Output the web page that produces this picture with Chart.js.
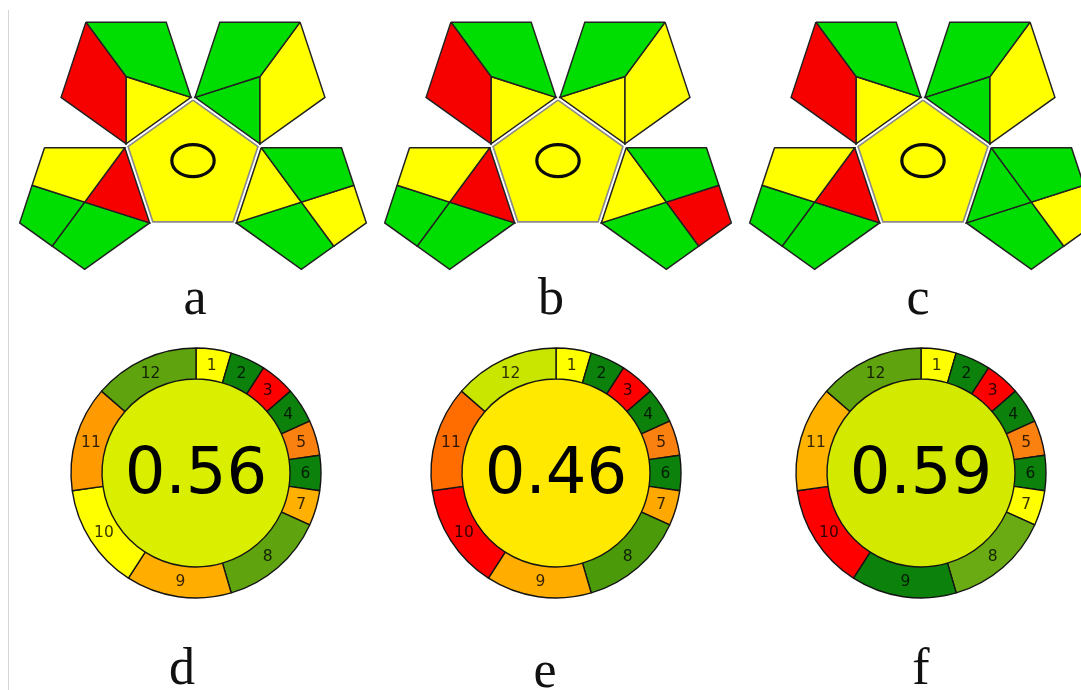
<!DOCTYPE html>
<html>
<head>
<meta charset="utf-8">
<script src="https://cdn.jsdelivr.net/npm/chart.js@4.4.1/dist/chart.umd.min.js"></script>
<style>
  html, body { margin: 0; padding: 0; background: #fff; overflow: hidden; }
  body { width: 1081px; height: 690px; position: relative; }
  canvas { position: absolute; }
  .rule { position: absolute; left: 8px; top: 10px; width: 1px; height: 680px; background: #d6d6d6; }
  .tag { position: absolute; width: 100px; text-align: center; font-family: "Liberation Serif", "Times New Roman", serif;
         font-size: 52px; line-height: 52px; color: #111; }
</style>
</head>
<body>
<div class="rule"></div>

<canvas id="gapiA" width="420" height="290"></canvas>
<canvas id="gapiB" width="420" height="290"></canvas>
<canvas id="gapiC" width="420" height="290"></canvas>
<canvas id="agreeD" width="270" height="270"></canvas>
<canvas id="agreeE" width="270" height="270"></canvas>
<canvas id="agreeF" width="270" height="270"></canvas>

<script>
// ---------------- data ----------------
// GAPI pictograms: one colour code per field (G = green, Y = yellow, R = red)
// field order: top-left (3), top-right (3), bottom-left (4), bottom-right (4), centre (1)
const gapiFields = ['TL-outer', 'TL-top', 'TL-inner', 'TR-top', 'TR-outer', 'TR-inner',
                    'BL-top', 'BL-inner', 'BL-left', 'BL-bottom',
                    'BR-top', 'BR-inner', 'BR-right', 'BR-bottom', 'centre'];
const gapiA = ['R', 'G', 'Y', 'G', 'Y', 'G', 'Y', 'R', 'G', 'G', 'G', 'Y', 'Y', 'G', 'Y'];
const gapiB = ['R', 'G', 'Y', 'G', 'Y', 'Y', 'Y', 'R', 'G', 'G', 'G', 'Y', 'R', 'G', 'Y'];
const gapiC = ['R', 'G', 'Y', 'G', 'Y', 'G', 'Y', 'R', 'G', 'G', 'G', 'G', 'Y', 'G', 'Y'];
const gapiLetters = ['a', 'b', 'c'];

// AGREE pictograms: 12 principles, their weights and the colour of each segment
const principles = ['1', '2', '3', '4', '5', '6', '7', '8', '9', '10', '11', '12'];
const weights = [1, 1, 1, 1, 1, 1, 1, 3, 3, 3, 3, 3];
const agreeD = ['#ffff00', '#0c820c', '#ff0000', '#0c820c', '#fa8010', '#0c820c', '#ffb000', '#5fa30f', '#ffae00', '#ffff00', '#ff9a00', '#5fa30f'];
const agreeE = ['#ffff00', '#0c820c', '#ff0000', '#0c820c', '#fa8010', '#0c820c', '#ffa800', '#4b9a0a', '#ffae00', '#ff0000', '#ff6d00', '#c9e600'];
const agreeF = ['#ffff00', '#0c820c', '#ff0000', '#0c820c', '#fa8010', '#0c820c', '#ffff00', '#6aab14', '#0c820c', '#ff0000', '#ffb300', '#5fa30f'];
const scores = [0.56, 0.46, 0.59];
const scoreColors = ['#daef00', '#ffe900', '#d3e900'];
const agreeLetters = ['d', 'e', 'f'];

// ---------------- layout ----------------
const gapiCentresX = [193.3, 557.5, 923];
const gapiCentreY = 167.4;
const pxPerUnitX = 68.3, pxPerUnitY = 67.3;
const agreeCentresX = [196, 555.5, 921];
const agreeCentreY = 473;

const fieldColour = { G: '#00dd00', Y: '#ffff00', R: '#f70000' };

// ---------------- pentagon geometry ----------------
const rad = Math.PI / 180;
// central regular pentagon, unit circumradius, vertex 0 at the top, counter-clockwise
const V = [0, 1, 2, 3, 4].map(k => ({ x: Math.cos((90 + 72 * k) * rad), y: Math.sin((90 + 72 * k) * rad) }));
const GAP = 0.05;
const mid = (a, b) => ({ x: (a.x + b.x) / 2, y: (a.y + b.y) / 2 });

// outer pentagon: mirror of the centre one over the edge Vi-Vj, pushed out slightly
function satellite(i, j) {
  const m = mid(V[i], V[j]);
  const len = Math.hypot(m.x, m.y);
  const sx = m.x / len * GAP, sy = m.y / len * GAP;
  return V.map(v => ({ x: 2 * m.x - v.x + sx, y: 2 * m.y - v.y + sy }));
}
function centreOf(W) {
  return { x: W.reduce((s, p) => s + p.x, 0) / 5, y: W.reduce((s, p) => s + p.y, 0) / 5 };
}

const TL = satellite(0, 1), TR = satellite(4, 0), BL = satellite(1, 2), BR = satellite(3, 4);
const pTL = centreOf(TL), pTR = centreOf(TR), pBL = centreOf(BL), pBR = centreOf(BR);

// polygons in the same order as gapiFields
const fieldShapes = [
  [TL[3], pTL, TL[0], TL[4]],
  [TL[3], TL[2], TL[1], pTL],
  [pTL, TL[1], TL[0]],
  [TR[2], TR[3], TR[4], pTR],
  [TR[2], TR[1], TR[0], pTR],
  [pTR, TR[0], TR[4]],
  [BL[3], BL[2], pBL, mid(BL[4], BL[3])],
  [BL[2], BL[1], pBL],
  [mid(BL[4], BL[3]), pBL, mid(BL[0], BL[4]), BL[4]],
  [pBL, BL[1], BL[0], mid(BL[0], BL[4])],
  [BR[3], BR[2], mid(BR[2], BR[1]), pBR],
  [BR[3], pBR, BR[4]],
  [mid(BR[2], BR[1]), BR[1], mid(BR[1], BR[0]), pBR],
  [pBR, mid(BR[1], BR[0]), BR[0], BR[4]],
  V.slice()
];

// ring drawn in the middle of the central pentagon
const ringMark = {
  id: 'ringMark',
  afterDatasetsDraw(chart) {
    const { ctx, scales: { x, y } } = chart;
    const cx = x.getPixelForValue(0), cy = y.getPixelForValue(0.10);
    const rx = x.getPixelForValue(0.31) - cx;
    const ry = cy - y.getPixelForValue(0.10 + 0.238);
    ctx.save();
    ctx.beginPath();
    ctx.ellipse(cx, cy, rx, ry, 0, 0, Math.PI * 2);
    ctx.lineWidth = 3.2;
    ctx.strokeStyle = '#0a0a0a';
    ctx.stroke();
    ctx.restore();
  }
};

function drawGapi(id, codes, idx) {
  const canvas = document.getElementById(id);
  const W = canvas.width, H = canvas.height;
  const cxPix = gapiCentresX[idx];
  canvas.style.left = (cxPix - W / 2) + 'px';
  canvas.style.top = '0px';
  const datasets = fieldShapes.map((shape, i) => {
    const isCentre = gapiFields[i] === 'centre';
    return {
      label: gapiFields[i],
      data: shape.concat([shape[0]]),
      showLine: true,
      fill: 'shape',
      backgroundColor: fieldColour[codes[i]],
      borderColor: isCentre ? '#8a8a8a' : '#222',
      borderWidth: isCentre ? 1.6 : 1.5,
      borderJoinStyle: 'miter',
      pointRadius: 0,
      tension: 0
    };
  });
  new Chart(canvas, {
    type: 'scatter',
    data: { datasets },
    options: {
      responsive: false,
      animation: false,
      events: [],
      layout: { padding: 0 },
      plugins: { legend: { display: false }, tooltip: { enabled: false } },
      scales: {
        x: { type: 'linear', display: false, min: -(W / 2) / pxPerUnitX, max: (W / 2) / pxPerUnitX },
        y: { type: 'linear', display: false, min: -(H - gapiCentreY) / pxPerUnitY, max: gapiCentreY / pxPerUnitY }
      }
    },
    plugins: [ringMark]
  });
}

// segment numbers and the overall score in the middle
const agreeText = {
  id: 'agreeText',
  afterDatasetsDraw(chart, args, opts) {
    const ctx = chart.ctx;
    const meta = chart.getDatasetMeta(0);
    ctx.save();
    ctx.font = '15.5px "DejaVu Sans"';
    ctx.fillStyle = 'rgba(0,0,0,0.8)';
    ctx.textAlign = 'center';
    ctx.textBaseline = 'middle';
    meta.data.forEach((arc, i) => {
      const p = arc.tooltipPosition();
      ctx.fillText(chart.data.labels[i], p.x, p.y + 1);
    });
    const c = meta.data[0];
    ctx.font = '64px "DejaVu Sans"';
    ctx.fillStyle = '#000';
    ctx.textBaseline = 'alphabetic';
    ctx.fillText(opts.score.toFixed(2), c.x, c.y + 20);
    ctx.restore();
  }
};

function drawAgree(id, colours, idx) {
  const canvas = document.getElementById(id);
  const S = canvas.width;
  canvas.style.left = (agreeCentresX[idx] - S / 2) + 'px';
  canvas.style.top = (agreeCentreY - S / 2) + 'px';
  new Chart(canvas, {
    type: 'doughnut',
    data: {
      labels: principles,
      datasets: [
        { data: weights, backgroundColor: colours, borderColor: '#141414', borderWidth: 1.4, weight: 1 },
        { data: [1], backgroundColor: [scoreColors[idx]], borderWidth: 0, weight: 3.03 }
      ]
    },
    options: {
      responsive: false,
      animation: false,
      events: [],
      cutout: 0,
      radius: 125,
      layout: { padding: 0 },
      plugins: {
        legend: { display: false },
        tooltip: { enabled: false },
        agreeText: { score: scores[idx] }
      }
    },
    plugins: [agreeText]
  });
}

drawGapi('gapiA', gapiA, 0);
drawGapi('gapiB', gapiB, 1);
drawGapi('gapiC', gapiC, 2);
drawAgree('agreeD', agreeD, 0);
drawAgree('agreeE', agreeE, 1);
drawAgree('agreeF', agreeF, 2);

// panel letters (baseline positions)
const letterX = [195, 551, 918, 182, 545, 921];
const letterBase = [315, 315, 315, 685, 688, 685];
gapiLetters.concat(agreeLetters).forEach((t, i) => {
  const d = document.createElement('div');
  d.className = 'tag';
  d.textContent = t;
  d.style.left = (letterX[i] - 50) + 'px';
  d.style.top = (letterBase[i] - 43.6) + 'px';
  document.body.appendChild(d);
});
</script>
</body>
</html>
